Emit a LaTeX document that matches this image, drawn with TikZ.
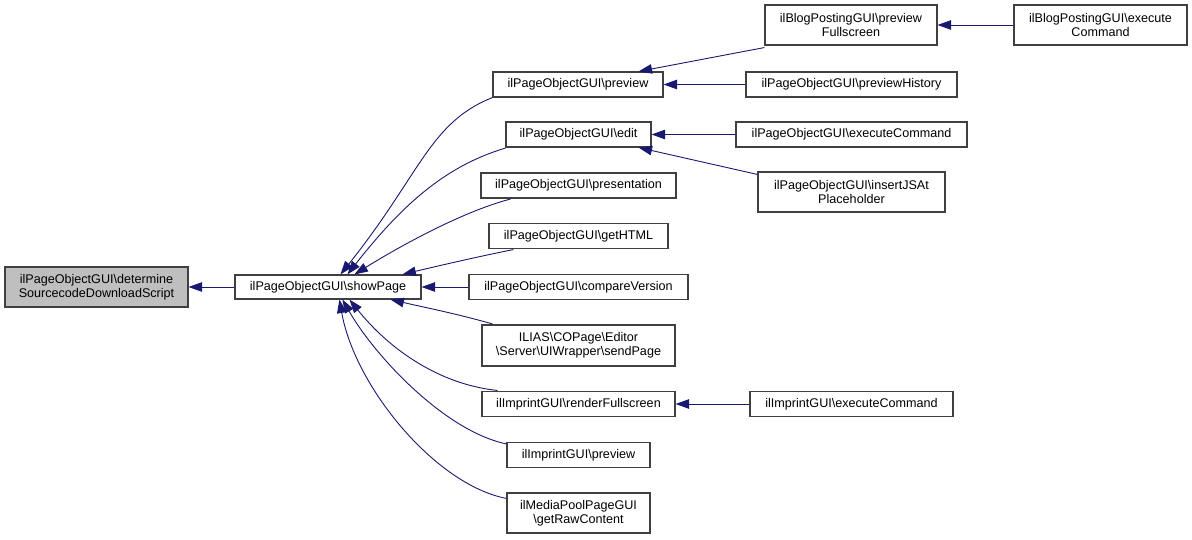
\documentclass[tikz,border=0pt]{standalone}
\usepackage{fontspec}
\setmainfont{Liberation Sans}
\usetikzlibrary{arrows.meta}
\definecolor{edgeblue}{HTML}{191970}
\definecolor{boxgray}{HTML}{BFBFBF}
\newcommand{\bs}{\textbackslash}
\begin{document}
\begin{tikzpicture}[x=1pt,y=-1pt,
  box/.style={draw=black!75, line width=1.1pt, fill=white, inner sep=0pt, align=center,
    font=\fontsize{12.6}{14}\selectfont, text=black},
  edge/.style={draw=edgeblue, line width=0.9pt, -{Triangle[length=13.5pt,width=9.5pt]}}]
\useasboundingbox (0,0) rectangle (1192,540);
% column 1-2
\node[box, fill=boxgray, minimum width=183, minimum height=40] (det) at (96.5,287) {ilPageObjectGUI\bs determine\\SourcecodeDownloadScript};
\node[box, minimum width=186, minimum height=24] (show) at (328,287) {ilPageObjectGUI\bs showPage};
% column 3
\node[box, minimum width=170, minimum height=25] (prev) at (578,84.5) {ilPageObjectGUI\bs preview};
\node[box, minimum width=145, minimum height=25] (edit) at (578.5,134.5) {ilPageObjectGUI\bs edit};
\node[box, minimum width=195, minimum height=25] (pres) at (578.5,185.5) {ilPageObjectGUI\bs presentation};
\node[box, minimum width=179, minimum height=25] (html) at (578.5,236) {ilPageObjectGUI\bs getHTML};
\node[box, minimum width=219, minimum height=25] (comp) at (578.5,287) {ilPageObjectGUI\bs compareVersion};
\node[box, minimum width=193, minimum height=41] (send) at (578.5,345.5) {ILIAS\bs COPage\bs Editor\\\bs Server\bs UIWrapper\bs sendPage};
\node[box, minimum width=193, minimum height=25] (rend) at (578.5,404) {ilImprintGUI\bs renderFullscreen};
\node[box, minimum width=143, minimum height=25] (iprev) at (578.5,455) {ilImprintGUI\bs preview};
\node[box, minimum width=143, minimum height=40] (media) at (578.5,513) {ilMediaPoolPageGUI\\\bs getRawContent};
% column 4
\node[box, minimum width=172, minimum height=40] (bpfs) at (851,25) {ilBlogPostingGUI\bs preview\\Fullscreen};
\node[box, minimum width=211, minimum height=25] (phist) at (851.5,84.5) {ilPageObjectGUI\bs previewHistory};
\node[box, minimum width=231, minimum height=25] (exec) at (851.5,134.5) {ilPageObjectGUI\bs executeCommand};
\node[box, minimum width=187, minimum height=40] (ins) at (851.5,192) {ilPageObjectGUI\bs insertJSAt\\Placeholder};
\node[box, minimum width=203, minimum height=25] (iexec) at (851.5,404) {ilImprintGUI\bs executeCommand};
% column 5
\node[box, minimum width=173, minimum height=40] (bexec) at (1100.5,25) {ilBlogPostingGUI\bs execute\\Command};

% edges
\draw[edge] (show.west) -- (det.east);
\draw[edge] (prev.south west) .. controls +(-63,25) and +(80,-100) .. ([xshift=106]show.north west);
\draw[edge] ([yshift=-0.5]edit.south west) .. controls +(-60,18) and +(55,-70) .. ([xshift=113]show.north west);
\draw[edge] ([xshift=30,yshift=-0.5]pres.south west) .. controls +(-50,13) and +(40,-25) .. ([xshift=120]show.north west);
\draw[edge] ([xshift=25,yshift=-0.5]html.south west) .. controls +(-40,8) and +(25,-6) .. ([xshift=168]show.north west);
\draw[edge] (comp.west) -- (show.east);
\draw[edge] ([xshift=11,yshift=0.5]send.north west) .. controls +(-35,-10) and +(35,8) .. ([xshift=156]show.south west);
\draw[edge] ([xshift=16,yshift=0.5]rend.north west) .. controls +(-58,-6) and +(40,50) .. ([xshift=115]show.south west);
\draw[edge] ([yshift=-2]iprev.north west) .. controls +(-62,-13) and +(32,56) .. ([xshift=108]show.south west);
\draw[edge] ([yshift=-6]media.north west) .. controls +(-72,-14) and +(15,86) .. ([xshift=105]show.south west);

\draw[edge] (bexec.west) -- (bpfs.east);
\draw[edge] (phist.west) -- (prev.east);
\draw[edge] ([yshift=-2]bpfs.south west) -- ([xshift=-25]prev.north east);
\draw[edge] (exec.west) -- (edit.east);
\draw[edge] ([yshift=-3]ins.north west) -- ([xshift=-13]edit.south east);
\draw[edge] (iexec.west) -- (rend.east);
\end{tikzpicture}
\end{document}
